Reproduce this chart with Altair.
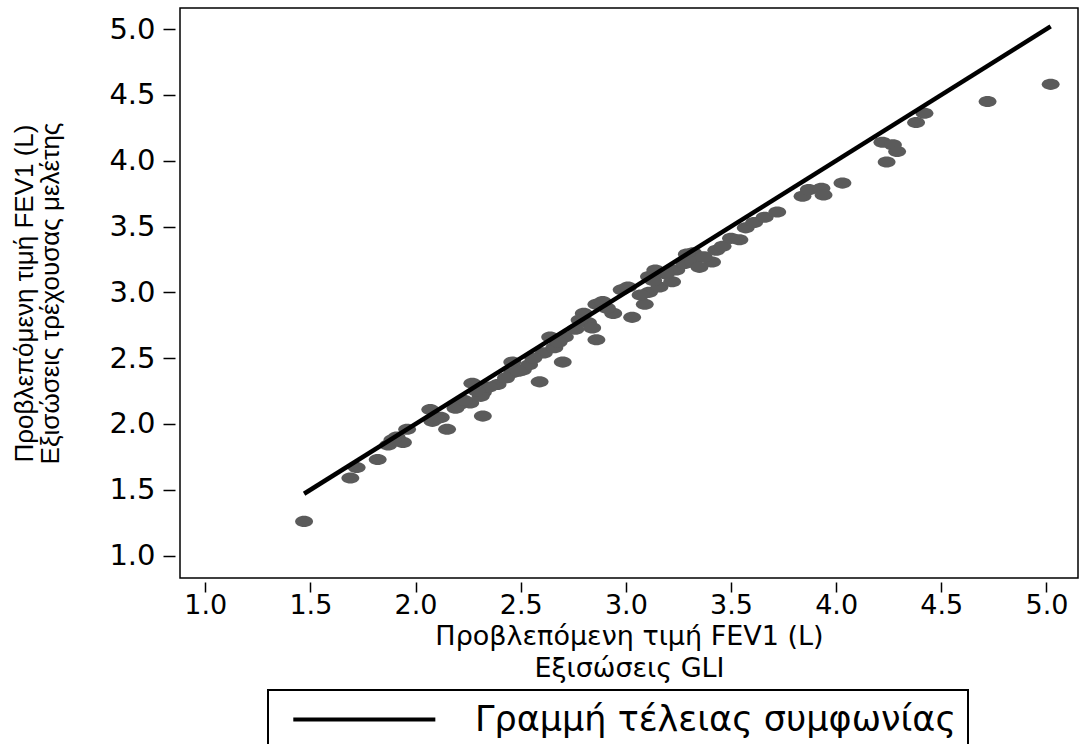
import altair as alt
import pandas as pd

# Predicted FEV1 (L), GLI equations (x) vs current-study equations (y)
gli_x = [1.47, 1.69, 1.72, 1.82, 1.87, 1.91, 1.94, 1.96, 2.07, 2.08, 2.15, 2.12,
         2.21, 2.26, 2.32, 2.32, 2.27, 2.31, 2.39, 2.46, 2.46, 2.51, 2.54, 2.59,
         2.61, 2.64, 2.66, 2.70, 2.71, 2.82, 2.86, 2.80, 2.84, 2.86, 2.89, 2.94,
         2.98, 3.01, 3.03, 3.09, 3.11, 3.11, 3.14, 3.16, 3.22, 3.24, 3.28, 3.32,
         3.41, 3.29, 3.32, 3.43, 3.46, 3.50, 3.57, 3.61, 3.66, 3.72, 3.84, 3.87,
         3.93, 3.94, 4.03, 4.22, 4.27, 4.29, 4.24, 4.38, 4.42, 4.72, 5.02,
         2.19, 2.35, 2.43, 2.76, 3.07, 3.35, 3.54,
         1.89, 2.10, 2.23, 2.29, 2.49, 2.56, 2.68, 2.78, 2.91, 3.13, 3.19, 3.37]
study_y = [1.26, 1.59, 1.67, 1.73, 1.84, 1.90, 1.86, 1.96, 2.11, 2.02, 1.96, 2.05,
           2.15, 2.16, 2.06, 2.24, 2.31, 2.21, 2.30, 2.47, 2.39, 2.41, 2.45, 2.32,
           2.54, 2.66, 2.58, 2.47, 2.66, 2.77, 2.64, 2.84, 2.73, 2.91, 2.93, 2.84,
           3.02, 3.04, 2.81, 2.91, 3.00, 3.12, 3.17, 3.04, 3.08, 3.17, 3.22, 3.30,
           3.23, 3.29, 3.23, 3.32, 3.35, 3.41, 3.49, 3.53, 3.57, 3.61, 3.73, 3.78,
           3.79, 3.74, 3.83, 4.14, 4.12, 4.07, 3.99, 4.29, 4.36, 4.45, 4.58,
           2.12, 2.28, 2.35, 2.72, 2.98, 3.19, 3.40,
           1.88, 2.04, 2.18, 2.25, 2.40, 2.50, 2.62, 2.79, 2.88, 3.09, 3.14, 3.27]

# Line of perfect agreement
line_x = [1.47, 5.02]
line_y = [1.47, 5.02]
legend_label = "Γραμμή τέλειας συμφωνίας"

tick_values = [1.0, 1.5, 2.0, 2.5, 3.0, 3.5, 4.0, 4.5, 5.0]
x_title = ["Προβλεπόμενη τιμή FEV1 (L)", "Εξισώσεις GLI"]
y_title = ["Προβλεπόμενη τιμή FEV1 (L)", "Εξισώσεις τρέχουσας μελέτης"]

pts = pd.DataFrame({"x": gli_x, "y": study_y})
ln = pd.DataFrame({"x": line_x, "y": line_y, "series": [legend_label] * len(line_x)})

FONT = "DejaVu Sans"
xscale = alt.Scale(domain=[0.88, 5.15], nice=False, zero=False)
yscale = alt.Scale(domain=[0.83, 5.16], nice=False, zero=False)

ellipse = ("M-1,0 C-1,-0.342 -0.552,-0.62 0,-0.62 C0.552,-0.62 1,-0.342 1,0 "
           "C1,0.342 0.552,0.62 0,0.62 C-0.552,0.62 -1,0.342 -1,0 Z")

x_axis = alt.Axis(values=tick_values, format=".1f", title=x_title,
                  labelFontSize=27, titleFontSize=27, titleLineHeight=32,
                  titlePadding=5, labelPadding=0, tickSize=10, offset=4)
y_axis = alt.Axis(values=tick_values, format=".1f", title=y_title,
                  labelFontSize=29, titleFontSize=26, titleLineHeight=26,
                  titlePadding=45, labelPadding=8, titleFont="Liberation Sans")

points = alt.Chart(pts).mark_point(
    filled=True, shape=ellipse, size=320, color="#5b5b5b", opacity=1, strokeWidth=0
).encode(
    x=alt.X("x:Q", scale=xscale, axis=x_axis),
    y=alt.Y("y:Q", scale=yscale, axis=y_axis),
)

line = alt.Chart(ln).mark_line(strokeWidth=4.5).encode(
    x=alt.X("x:Q", scale=xscale),
    y=alt.Y("y:Q", scale=yscale),
    color=alt.Color("series:N", scale=alt.Scale(range=["black"]),
                    legend=alt.Legend(title=None, orient="none", legendX=88, legendY=682,
                                      symbolType="M-1,0 L9,0", symbolSize=807,
                                      symbolStrokeWidth=4, symbolOffset=10,
                                      labelOffset=150, padding=12, labelLimit=0)),
)

chart = alt.layer(points, line).properties(
    width=898, height=570,
    autosize=alt.AutoSizeParams(type="none"),
    padding={"left": 180, "top": 8, "right": 3, "bottom": 166},
    background="white",
).configure_view(
    stroke="black", strokeWidth=1.5
).configure_axis(
    domain=False, grid=False, offset=5, tickSize=12, tickWidth=1.5, tickColor="black",
    labelColor="black", titleColor="black", labelFont=FONT, titleFont=FONT,
    titleFontWeight="normal",
).configure_legend(
    labelFont=FONT, labelFontSize=35, labelColor="black",
    strokeColor="black", strokeWidth=2, fillColor="white", cornerRadius=0,
)

chart.save("out.html", embed_options={"renderer": "svg", "actions": False})
